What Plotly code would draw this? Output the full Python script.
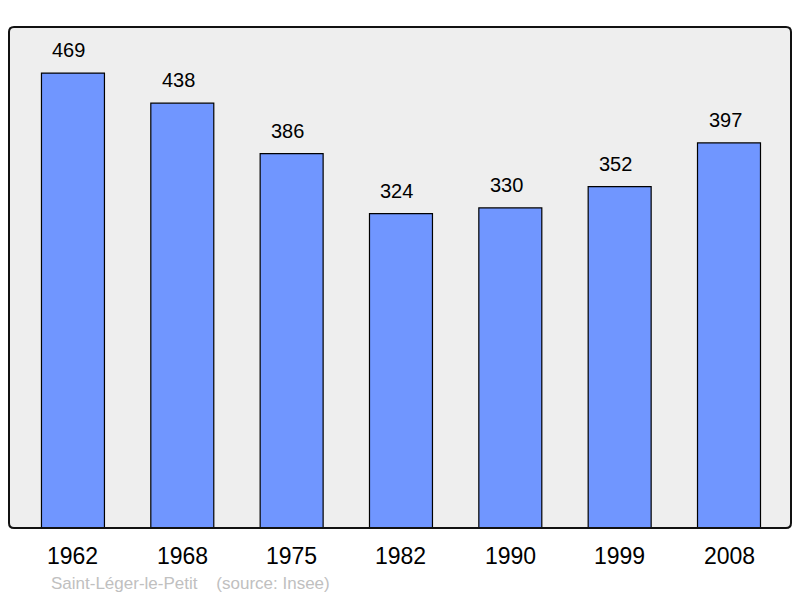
import plotly.graph_objects as go

years = ["1962", "1968", "1975", "1982", "1990", "1999", "2008"]
population = [469, 438, 386, 324, 330, 352, 397]
caption = "Saint-Léger-le-Petit    (source: Insee)"

idx = list(range(len(years)))
FONT = "Liberation Sans, Arial, sans-serif"

fig = go.Figure()
fig.add_trace(go.Bar(
    x=idx, y=population, width=0.576,
    marker=dict(color="#7096FF", line=dict(color="#000000", width=1.2)),
    hoverinfo="skip",
))

ann = []
for i, (yr, v) in enumerate(zip(years, population)):
    ann.append(dict(x=i, y=v, xref="x", yref="y", text=str(v), showarrow=False,
                    yanchor="bottom", yshift=10, xshift=-4,
                    font=dict(family=FONT, size=20, color="#000000")))
    ann.append(dict(x=i, y=0, xref="x", yref="y", text=yr, showarrow=False,
                    yanchor="middle", yshift=-28,
                    font=dict(family=FONT, size=23, color="#000000")))
ann.append(dict(x=40 / 782, y=0, xref="paper", yref="paper", text=caption, showarrow=False,
                xanchor="left", yanchor="middle", yshift=-55,
                font=dict(family=FONT, size=17, color="#C0C0C0")))

# rounded frame around plot area (paper coords)
rx = 5 / 782
ry = 5 / 501
path = (f"M {rx},0 L {1-rx},0 Q 1,0 1,{ry} L 1,{1-ry} Q 1,1 {1-rx},1 "
        f"L {rx},1 Q 0,1 0,{1-ry} L 0,{ry} Q 0,0 {rx},0 Z")

fig.update_layout(
    width=800, height=598,
    margin=dict(l=9, r=9, t=27, b=70),
    paper_bgcolor="#FFFFFF",
    plot_bgcolor="#EEEEEE",
    showlegend=False,
    xaxis=dict(range=[-0.585, 6.567], showticklabels=False, showgrid=False, zeroline=False,
               fixedrange=True),
    yaxis=dict(range=[0, 516.5], showticklabels=False, showgrid=False, zeroline=False,
               fixedrange=True),
    annotations=ann,
    shapes=[dict(type="path", xref="paper", yref="paper", path=path,
                 line=dict(color="#111111", width=2), layer="above")],
)

fig.write_html("out.html", config={"displayModeBar": False, "staticPlot": True},
               post_script="document.body.style.margin='0';document.body.style.overflow='hidden';")
